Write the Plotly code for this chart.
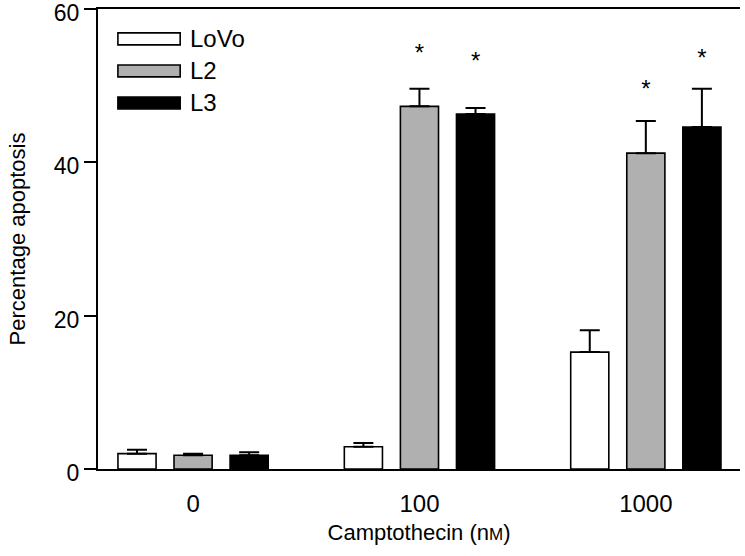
import plotly.graph_objects as go

# ---- data ----
doses = ["0", "100", "1000"]
series = ["LoVo", "L2", "L3"]
lovo = [2.0, 2.9, 15.25]
lovo_err = [0.5, 0.5, 2.85]
l2 = [1.8, 47.3, 41.2]
l2_err = [0.2, 2.3, 4.2]
l3 = [1.8, 46.3, 44.6]
l3_err = [0.4, 0.8, 5.0]
# asterisk heights (None = not significant)
lovo_star = [None, None, None]
l2_star = [None, 54.0, 49.3]
l3_star = [None, 52.9, 53.3]

values = [lovo, l2, l3]
errors = [lovo_err, l2_err, l3_err]
stars = [lovo_star, l2_star, l3_star]
fills = ["white", "#b0b0b0", "black"]

FONT = "Liberation Sans, Arial, Helvetica, sans-serif"
xpos = list(range(len(doses)))
slot = 0.248

fig = go.Figure()
for i, name in enumerate(series):
    fig.add_trace(go.Bar(
        x=xpos, y=values[i], name=name,
        marker=dict(color=fills[i], line=dict(color="black", width=1.6)),
        error_y=dict(type="data", symmetric=False, array=errors[i],
                     arrayminus=[0] * len(doses), color="black",
                     thickness=2, width=10),
        showlegend=False,
    ))
    sx = [x + (i - 1) * slot for x, s in zip(xpos, stars[i]) if s is not None]
    sy = [s for s in stars[i] if s is not None]
    if sx:
        fig.add_trace(go.Scatter(
            x=sx, y=sy, mode="text", text=["*"] * len(sx),
            textfont=dict(family=FONT, size=24, color="black"),
            showlegend=False, hoverinfo="skip", cliponaxis=False,
        ))

# manual legend
x0, x1 = 0.031, 0.128
ytop = 0.948
h = 0.026
step = 0.0696
for i, name in enumerate(series):
    yt = ytop - i * step
    fig.add_shape(type="rect", xref="paper", yref="paper",
                  x0=x0, x1=x1, y0=yt - h, y1=yt,
                  fillcolor=fills[i], line=dict(color="black", width=1.6))
    fig.add_annotation(xref="paper", yref="paper", x=x1 + 0.012, y=yt - h / 2,
                       text=name, showarrow=False, xanchor="left", yanchor="middle",
                       font=dict(family=FONT, size=24, color="black"))

fig.update_layout(
    width=745, height=556,
    margin=dict(l=98, r=5, t=9, b=87, autoexpand=False),
    paper_bgcolor="white", plot_bgcolor="white",
    barmode="group", bargap=0.257, bargroupgap=0.32,
    font=dict(family=FONT, color="black"),
    xaxis=dict(
        range=[-0.42, 2.416], tickvals=xpos, ticktext=doses,
        showline=True, linecolor="black", linewidth=2, mirror=True,
        ticks="", showgrid=False, zeroline=False, automargin=False,
        tickfont=dict(size=24, family=FONT), ticklabelstandoff=12,
        title=dict(text="Camptothecin (n<span style='font-size:17px'>M</span>)",
                   font=dict(size=22, family=FONT), standoff=9),
    ),
    yaxis=dict(
        range=[0, 60.001], tickvals=[0, 20, 40, 60],
        showline=True, linecolor="black", linewidth=2,
        ticks="outside", ticklen=12, tickwidth=2, tickcolor="black",
        showgrid=False, zeroline=False, automargin=False,
        tickfont=dict(size=23, family=FONT), ticklabeloverflow="allow",
        ticklabelshift=4,
        title=dict(text="Percentage apoptosis", font=dict(size=22, family=FONT), standoff=22),
    ),
)

fig.write_html(
    "out.html",
    config={"displayModeBar": False},
    post_script="document.body.style.margin='0';document.body.style.overflow='hidden';",
)
